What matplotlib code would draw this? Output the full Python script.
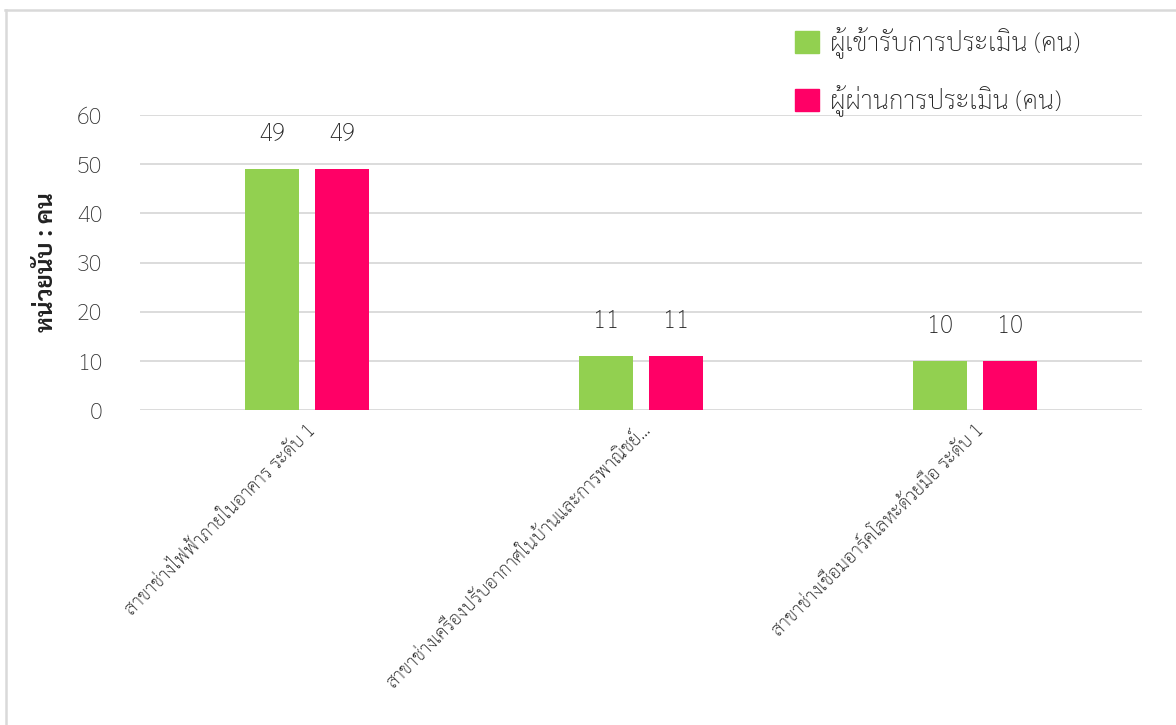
import matplotlib
matplotlib.use("Agg")
import matplotlib.pyplot as plt
from matplotlib.lines import Line2D
import numpy as np

plt.rcParams['font.family'] = ['Sarabun', 'DejaVu Sans']
plt.rcParams['font.weight'] = 'light'

categories = [
    "สาขาช่างไฟฟ้าภายในอาคาร ระดับ 1",
    "สาขาช่างเครื่องปรับอากาศในบ้านและการพาณิชย์...",
    "สาขาช่างเชื่อมอาร์คโลหะด้วยมือ ระดับ 1",
]
series_names = ["ผู้เข้ารับการประเมิน (คน)", "ผู้ผ่านการประเมิน (คน)"]
entered = [49, 11, 10]
passed = [49, 11, 10]
colors = ["#92D050", "#FF0066"]
y_label = "หน่วยนับ : คน"
y_ticks = [0, 10, 20, 30, 40, 50, 60]

W, H = 1176, 725
fig = plt.figure(figsize=(W / 100, H / 100), dpi=100)
ax = fig.add_axes([140 / W, 1 - 410 / H, (1142 - 140) / W, (410 - 115) / H])

x = np.arange(len(categories))
bw = 0.162
off = 0.105
b1 = ax.bar(x - off, entered, bw, color=colors[0], label=series_names[0], zorder=3)
b2 = ax.bar(x + off, passed, bw, color=colors[1], label=series_names[1], zorder=3)
for bars in (b1, b2):
    ax.bar_label(bars, padding=16, fontsize=17.5, color="#222222")

ax.set_xlim(-0.5, len(categories) - 0.5)
ax.set_ylim(0, 60)
ax.set_yticks(y_ticks)
ax.set_yticklabels([str(t) for t in y_ticks], fontsize=17, color="#333333")
ax.yaxis.grid(True, color="#D9D9D9", linewidth=1.3, zorder=0)
ax.set_axisbelow(True)
for s in ax.spines.values():
    s.set_visible(False)
ax.tick_params(axis='y', length=0, pad=27)
ax.tick_params(axis='x', length=0, pad=8)
ax.set_xticks(x)
ax.set_xticklabels(categories, rotation=45, ha='right', rotation_mode='anchor',
                   fontsize=13.4, color="#111111")
ax.set_ylabel(y_label, fontsize=17.5, fontweight='bold', color="#222222")
ax.yaxis.set_label_coords((59 - 140) / (1142 - 140), 0.5)

handles = [plt.Rectangle((0, 0), 1, 1, color=c) for c in colors]
leg = fig.legend(handles, series_names, loc='upper left',
                 bbox_to_anchor=(772 / W, 1 - 4 / H), frameon=False,
                 fontsize=18.7, handlelength=0.92, handleheight=0.92,
                 handletextpad=0.4, labelspacing=0.98, labelcolor="#222222")

# outer chart border (top and left edges visible)
fig.add_artist(Line2D([5 / W, 1], [1 - 9.5 / H, 1 - 9.5 / H], color="#D9D9D9", linewidth=1.8,
                      transform=fig.transFigure))
fig.add_artist(Line2D([5.5 / W, 5.5 / W], [0, 1 - 9.5 / H], color="#D9D9D9", linewidth=1.8,
                      transform=fig.transFigure))

fig.savefig("out.png", dpi=100)
